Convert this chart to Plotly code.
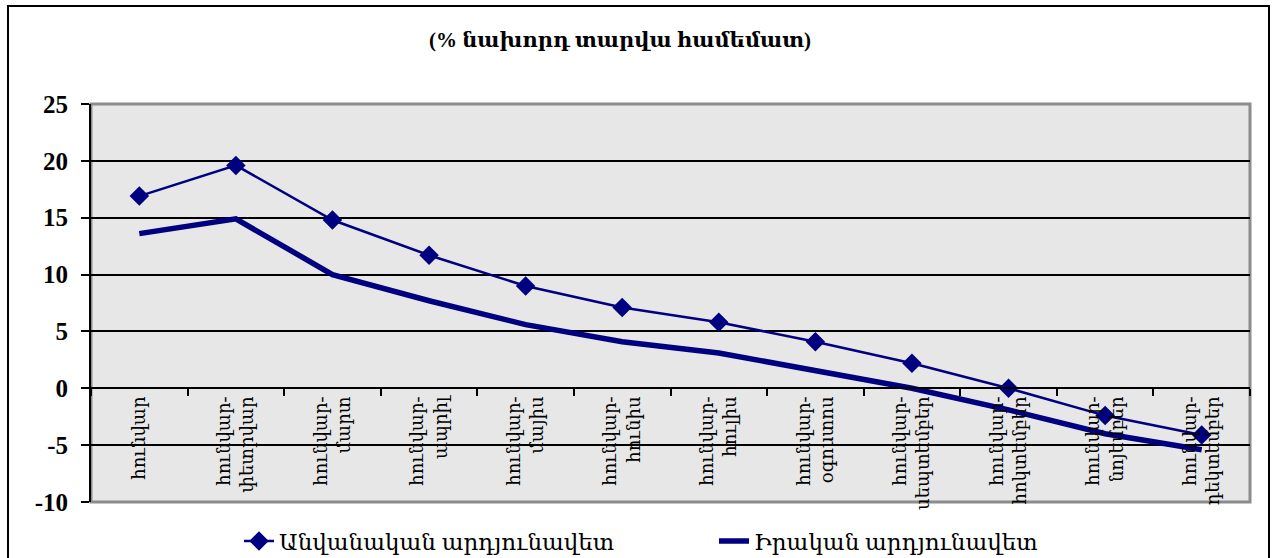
import plotly.graph_objects as go

categories = [
    "հունվար",
    "հունվար-<br>փետրվար",
    "հունվար-<br>մարտ",
    "հունվար-<br>ապրիլ",
    "հունվար-<br>մայիս",
    "հունվար-<br>հունիս",
    "հունվար-<br>հուլիս",
    "հունվար-<br>օգոստոս",
    "հունվար-<br>սեպտեմբեր",
    "հունվար-<br>հոկտեմբեր",
    "հունվար-<br>նոյեմբեր",
    "հունվար-<br>դեկտեմբեր",
]
nominal = [16.9, 19.6, 14.8, 11.7, 9.0, 7.1, 5.8, 4.1, 2.2, 0.0, -2.4, -4.1]
real = [13.6, 14.9, 10.0, 7.7, 5.6, 4.1, 3.1, 1.6, 0.0, -1.9, -4.0, -5.4]
series_names = ["Անվանական արդյունավետ", "Իրական արդյունավետ"]
title_text = "(% նախորդ տարվա համեմատ)"
y_ticks = [-10, -5, 0, 5, 10, 15, 20, 25]
y_ticktext = ["-10", "-5", "0", "5", "10", "15", "20", "25"]

FONT = "Liberation Serif, DejaVu Serif, serif"
NAVY = "#000080"
W, H = 1275, 558
ML, MR, MT, MB = 91, 25, 104, 56
PW, PH = W - ML - MR, H - MT - MB
ymin, ymax = -10, 25

fig = go.Figure()
fig.add_trace(go.Scatter(
    x=categories, y=nominal, name=series_names[0], mode="lines+markers",
    line=dict(color=NAVY, width=2.5),
    marker=dict(symbol="diamond", size=15, color=NAVY),
))
fig.add_trace(go.Scatter(
    x=categories, y=real, name=series_names[1], mode="lines",
    line=dict(color=NAVY, width=5.5),
))

# plot area border (gray) and outer chart frame (black)
fig.add_shape(type="rect", xref="paper", yref="paper", x0=0, x1=1, y0=0, y1=1,
              line=dict(color="#8c8c8c", width=3), layer="below")
fig.add_shape(type="rect", xref="paper", yref="paper",
              x0=(8 - ML) / PW, x1=(1269 - ML) / PW,
              y0=-0.2, y1=(H - MB - 6) / PH,
              line=dict(color="black", width=2), layer="below")

ENTRY = 430
leg_left = 244
leg_center = leg_left + (ENTRY + 40)

fig.update_layout(
    width=W, height=H,
    margin=dict(l=ML, r=MR, t=MT, b=MB, autoexpand=False),
    paper_bgcolor="white",
    plot_bgcolor="#e7e7e7",
    font=dict(family=FONT, color="black"),
    title=dict(text="<b>" + title_text + "</b>", x=620 / W, xanchor="center",
               y=1 - 40 / H, yanchor="middle", font=dict(size=21, family=FONT)),
    showlegend=True,
    legend=dict(orientation="h", x=(leg_center - ML) / PW, xanchor="center",
                y=-(541 - (H - MB)) / PH,
                yanchor="middle", font=dict(size=23, family=FONT),
                bgcolor="rgba(0,0,0,0)", entrywidth=ENTRY, entrywidthmode="pixels"),
    xaxis=dict(
        type="category", range=[-0.5, 11.5],
        anchor="free", position=(0 - ymin) / (ymax - ymin),
        showline=True, linecolor="black", linewidth=2,
        ticks="outside", tickson="boundaries", ticklen=7, tickcolor="black", tickwidth=2,
        tickangle=-90, tickfont=dict(size=18, family=FONT),
        showgrid=False, zeroline=False,
    ),
    yaxis=dict(
        range=[ymin, ymax], tickvals=y_ticks, ticktext=["<b>" + t + "</b>" for t in y_ticktext],
        domain=[0, 1],
        showline=True, linecolor="black", linewidth=2,
        ticks="outside", ticklen=8, tickcolor="black", tickwidth=2,
        ticklabelstandoff=8,
        tickfont=dict(size=25, family=FONT),
        showgrid=True, gridcolor="black", gridwidth=2,
        zeroline=False,
    ),
)

fig.write_html("out.html", config={"displayModeBar": False},
               post_script="document.body.style.margin='0';document.body.style.overflow='hidden';")
